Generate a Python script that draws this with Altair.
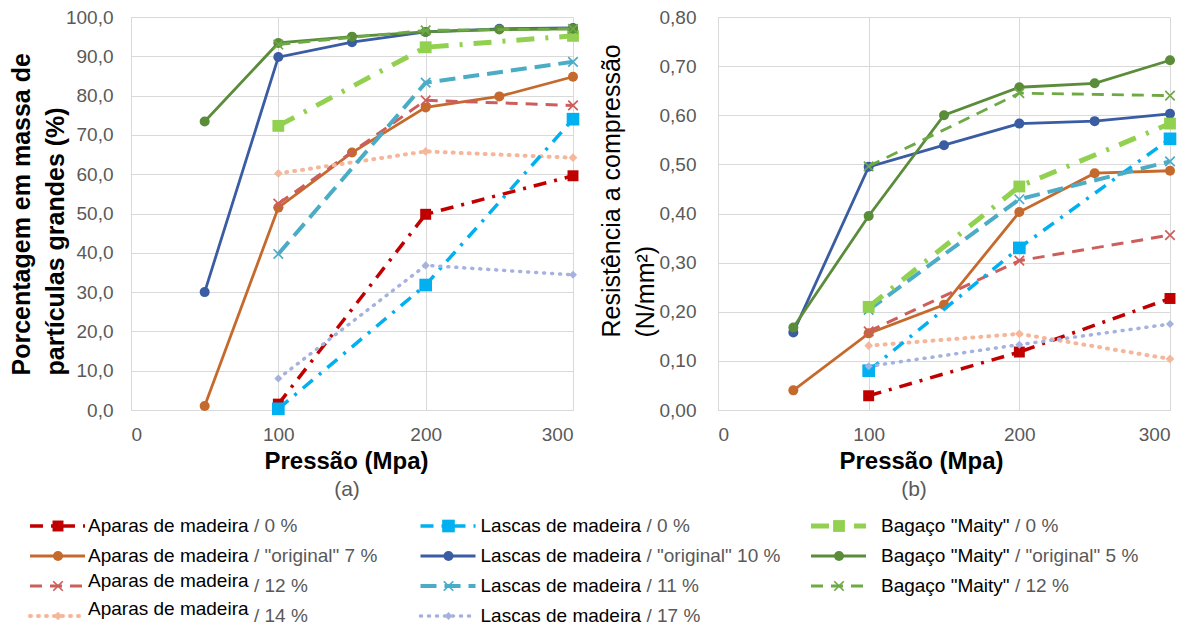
import altair as alt
import pandas as pd

# ---------------- data ----------------
series_ids = ["ap0", "ap7", "ap12", "ap14", "la0", "la10", "la11", "la17", "ba0", "ba5", "ba12"]
materials = {"ap": "Aparas de madeira", "la": "Lascas de madeira", "ba": 'Bagaço "Maity"'}
suffixes = {
    "ap0": "/ 0 %", "ap7": '/ "original" 7 %', "ap12": "/ 12 %", "ap14": "/ 14 %",
    "la0": "/ 0 %", "la10": '/ "original" 10 %', "la11": "/ 11 %", "la17": "/ 17 %",
    "ba0": "/ 0 %", "ba5": '/ "original" 5 %', "ba12": "/ 12 %",
}

p3 = [100, 200, 300]
p6 = [50, 100, 150, 200, 250, 300]

press = {
    "ap0": p3, "ap7": p6, "ap12": p3, "ap14": p3,
    "la0": p3, "la10": p6, "la11": p3, "la17": p3,
    "ba0": p3, "ba5": p6, "ba12": p3,
}

# (a) Porcentagem em massa de partículas grandes (%)
pct = {
    "ap0": [1.5, 49.8, 59.6],
    "ap7": [1.0, 51.5, 65.5, 77.0, 79.8, 84.8],
    "ap12": [52.5, 78.8, 77.5],
    "ap14": [60.2, 65.8, 64.2],
    "la0": [0.3, 31.8, 74.0],
    "la10": [30.0, 89.8, 93.6, 96.2, 97.0, 97.2],
    "la11": [39.7, 83.3, 88.6],
    "la17": [8.0, 36.8, 34.4],
    "ba0": [72.3, 92.3, 95.2],
    "ba5": [73.4, 93.4, 95.0, 96.2, 96.8, 97.0],
    "ba12": [93.0, 96.6, 97.0],
}

# (b) Resistência a compressão (N/mm²)
res = {
    "ap0": [0.029, 0.118, 0.227],
    "ap7": [0.040, 0.156, 0.214, 0.403, 0.482, 0.487],
    "ap12": [0.160, 0.304, 0.356],
    "ap14": [0.131, 0.155, 0.104],
    "la0": [0.080, 0.330, 0.552],
    "la10": [0.158, 0.495, 0.539, 0.583, 0.588, 0.603],
    "la11": [0.204, 0.429, 0.506],
    "la17": [0.089, 0.133, 0.175],
    "ba0": [0.210, 0.455, 0.583],
    "ba5": [0.168, 0.395, 0.600, 0.657, 0.665, 0.712],
    "ba12": [0.496, 0.645, 0.640],
}

x_ticks = [0, 100, 200, 300]
ya_ticks = [0, 10, 20, 30, 40, 50, 60, 70, 80, 90, 100]
yb_ticks = [0, 0.1, 0.2, 0.3, 0.4, 0.5, 0.6, 0.7, 0.8]

# legend grid placement (column, row)
legend_pos = {
    "ap0": (0, 0), "ap7": (0, 1), "ap12": (0, 2), "ap14": (0, 3),
    "la0": (1, 0), "la10": (1, 1), "la11": (1, 2), "la17": (1, 3),
    "ba0": (2, 0), "ba5": (2, 1), "ba12": (2, 2),
}

# ---------------- styles ----------------
XPATH = "M-1,-1L1,1M1,-1L-1,1"
DOT = [1, 7]
styles = {
    "ap0": dict(color="#C00000", dash=[13, 8, 3, 8], width=3.5, shape="square", size=120, filled=True),
    "ap7": dict(color="#C5692C", dash=None, width=2.8, shape="circle", size=100, filled=True),
    "ap12": dict(color="#CC5F5C", dash=[12, 8], width=3, shape=XPATH, size=90, filled=False),
    "ap14": dict(color="#F5B69A", dash=DOT, width=4, shape="diamond", size=75, filled=True),
    "la0": dict(color="#00B0F0", dash=[13, 8, 3, 8], width=3.5, shape="square", size=160, filled=True),
    "la10": dict(color="#3A5CA3", dash=None, width=2.8, shape="circle", size=100, filled=True),
    "la11": dict(color="#4BACC6", dash=[16, 8], width=4, shape=XPATH, size=90, filled=False),
    "la17": dict(color="#A5B1DE", dash=DOT, width=3.5, shape="diamond", size=65, filled=True),
    "ba0": dict(color="#92D050", dash=[18, 11, 3, 11], width=5, shape="square", size=140, filled=True),
    "ba5": dict(color="#5A8C3A", dash=None, width=2.8, shape="circle", size=100, filled=True),
    "ba12": dict(color="#6DAA45", dash=[12, 8], width=2.8, shape=XPATH, size=90, filled=False),
}
# legend text: start of label after the symbol, suffix start after the name (+ a space), name raise
name_dx = {"ap": 58, "la": 60, "ba": 70}
name_w = {"ap": 166, "la": 166, "ba": 134}
name_dy = {"ap12": -5, "ap14": -7}

FONT = "Liberation Sans"
GRID = "#D9D9D9"
LABEL = "#595959"
LEG_FS = 19


def line_kw(st):
    kw = dict(color=st["color"], strokeWidth=st["width"],
              strokeCap="round" if st["dash"] == DOT else "butt")
    if st["dash"] is not None:
        kw["strokeDash"] = st["dash"]
    return kw


def point_kw(st):
    if st["filled"]:
        return dict(shape=st["shape"], size=st["size"], filled=True, color=st["color"], opacity=1)
    return dict(shape=st["shape"], size=st["size"], filled=False, color=st["color"],
                strokeWidth=1.7, opacity=1)


def panel(values, ydomain, yticks, yfmt, ytitle, ytitle_weight, ytitle_x, ytitle_y,
          ylabel_pad, title_text, title_dx, xtitle_x, w, h):
    xaxis = alt.Axis(values=x_ticks, title="Pressão (Mpa)", titleFontWeight="bold",
                     titleFontSize=24, titleColor="black", titlePadding=5, titleX=xtitle_x,
                     labelFontSize=19, labelColor=LABEL, labelPadding=15, tickSize=0,
                     grid=True, gridColor=GRID, domainColor=GRID, labelFont=FONT, titleFont=FONT)
    yaxis = alt.Axis(values=yticks, title=ytitle, titleFontWeight=ytitle_weight,
                     titleFontSize=25, titleColor="black",
                     titleLineHeight=34, titleAlign="left", titleBaseline="middle",
                     titleAngle=270, titleX=ytitle_x, titleY=ytitle_y,
                     labelFontSize=19, labelColor=LABEL, labelPadding=ylabel_pad, tickSize=0,
                     labelExpr=f"replace(format(datum.value, '{yfmt}'), '.', ',')",
                     grid=True, gridColor=GRID, domainColor=GRID, labelFont=FONT, titleFont=FONT)
    layers = []
    for sid in series_ids:
        df = pd.DataFrame({"x": press[sid], "y": values[sid]})
        st = styles[sid]
        enc = dict(
            x=alt.X("x:Q", scale=alt.Scale(domain=[0, 300], nice=False), axis=xaxis),
            y=alt.Y("y:Q", scale=alt.Scale(domain=ydomain, nice=False), axis=yaxis),
        )
        layers.append(alt.Chart(df).mark_line(**line_kw(st)).encode(**enc))
        layers.append(alt.Chart(df).mark_point(**point_kw(st)).encode(**enc))
    return alt.layer(*layers).properties(
        width=w, height=h,
        title=alt.TitleParams(title_text, orient="bottom", fontSize=21, fontWeight="normal",
                              color=LABEL, font=FONT, offset=6, dx=title_dx),
    )


left = panel(pct, [0, 100], ya_ticks, ".1f",
             ["Porcentagem em massa de", "partículas grandes (%)"], "bold", -110, 358, 18,
             "(a)", -5, 215, 442, 393)
right = panel(res, [0, 0.8], yb_ticks, ".2f",
              ["Resistência a compressão", "(N/mm²)"], "normal", -107, 320, 22,
              "(b)", -30, 203, 452, 393)

# ---------------- custom legend ----------------
lx = alt.Scale(domain=[0, 2], range=[-101, 680])
ly = alt.Scale(domain=[0, 3], range=[20, 110])
leg_layers = []
for sid in series_ids:
    st = styles[sid]
    mat = sid[:2]
    col, row = legend_pos[sid]
    df = pd.DataFrame({"col": [col], "row": [row],
                       "name": [materials[mat]], "suffix": [suffixes[sid]]})
    enc = dict(x=alt.X("col:Q", scale=lx, axis=None), y=alt.Y("row:Q", scale=ly, axis=None))
    leg_layers.append(alt.Chart(df).mark_rule(**line_kw(st), x2Offset=55).encode(
        x2=alt.X2("col:Q"), **enc))
    leg_layers.append(alt.Chart(df).mark_point(**point_kw(st), xOffset=28).encode(**enc))
    leg_layers.append(alt.Chart(df).mark_text(
        align="left", baseline="middle", dx=name_dx[mat], dy=name_dy.get(sid, 0), font=FONT,
        fontSize=LEG_FS, color="black").encode(text="name:N", **enc))
    leg_layers.append(alt.Chart(df).mark_text(
        align="left", baseline="middle", dx=name_dx[mat] + name_w[mat], font=FONT,
        fontSize=LEG_FS, color=LABEL).encode(text="suffix:N", **enc))

legend = alt.layer(*leg_layers).properties(width=1000, height=114)

chart = alt.vconcat(
    alt.hconcat(left, right, spacing=15),
    legend,
    spacing=6,
).configure_view(stroke=None).properties(padding={"left": 8, "top": 8, "right": 0, "bottom": 0})

chart.save("out.html", embed_options={"renderer": "svg", "actions": False})
